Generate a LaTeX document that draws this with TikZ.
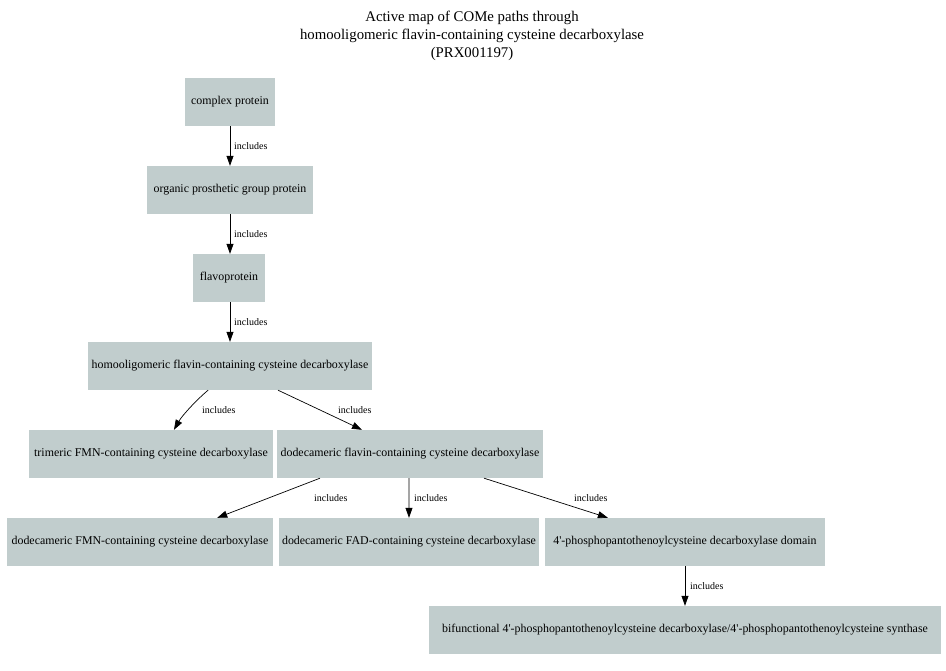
\documentclass[tikz,border=0pt]{standalone}
\usepackage{fontspec}
\setmainfont{Liberation Serif}
\usetikzlibrary{arrows.meta,calc}
\definecolor{boxfill}{HTML}{C1CDCD}
\newcommand{\apos}{\textquotesingle}
\begin{document}
\begin{tikzpicture}[x=1pt,y=-1pt,
  term/.style={fill=boxfill,draw=none,inner sep=0pt,minimum height=48pt,
    font=\fontsize{11.9}{14}\selectfont,anchor=center},
  rel/.style={draw=black,line width=0.7pt,-{Triangle[length=10pt,width=7pt]}},
  rellabel/.style={font=\fontsize{10}{12}\selectfont,inner sep=0pt}]
\useasboundingbox[fill=white] (0,0) rectangle (946,670);

% heading
\node[align=center,font=\fontsize{14.8}{18}\selectfont] (title) at (472,36)
  {Active map of COMe paths through\\homooligomeric flavin-containing cysteine decarboxylase\\(PRX001197)};

% terms
\node[term,minimum width=90pt]  (complex) at (230,102) {complex protein};
\node[term,minimum width=166pt] (organic) at (230,190) {organic prosthetic group protein};
\node[term,minimum width=72pt]  (flavo)   at (229,278) {flavoprotein};
\node[term,minimum width=284pt] (homo)    at (230,366) {homooligomeric flavin-containing cysteine decarboxylase};
\node[term,minimum width=244pt] (trimer)  at (151,454) {trimeric FMN-containing cysteine decarboxylase};
\node[term,minimum width=266pt] (dodeca)  at (410,454) {dodecameric flavin-containing cysteine decarboxylase};
\node[term,minimum width=266pt] (dfmn)    at (140,542) {dodecameric FMN-containing cysteine decarboxylase};
\node[term,minimum width=260pt] (dfad)    at (409,542) {dodecameric FAD-containing cysteine decarboxylase};
\node[term,minimum width=280pt] (domain)  at (685,542) {4\apos-phosphopantothenoylcysteine decarboxylase domain};
\node[term,minimum width=512pt] (bifunc)  at (685,630) {bifunctional 4\apos-phosphopantothenoylcysteine decarboxylase/4\apos-phosphopantothenoylcysteine synthase};

% relations
\draw[rel] (complex.south) -- (organic.north);
\node[rellabel,anchor=west] (l1) at (234,146) {includes};
\draw[rel] (organic.south) -- (organic.south |- flavo.north);
\node[rellabel,anchor=west] (l2) at (234,234) {includes};
\draw[rel] (flavo.south -| homo.north) -- (homo.north);
\node[rellabel,anchor=west] (l3) at (234,322) {includes};

\draw[rel] ($(homo.south west)!0.423!(homo.south east)$)
  .. controls +(-12,10) and +(8,-14) .. ($(trimer.north west)!0.594!(trimer.north east)$);
\node[rellabel,anchor=west] (l4) at (202,410) {includes};
\draw[rel] ($(homo.south west)!0.669!(homo.south east)$) -- ($(dodeca.north west)!0.32!(dodeca.north east)$);
\node[rellabel,anchor=west] (l5) at (338,410) {includes};

\draw[rel] ($(dodeca.south west)!0.162!(dodeca.south east)$) -- ($(dfmn.north west)!0.79!(dfmn.north east)$);
\node[rellabel,anchor=west] (l6) at (314,498) {includes};
\draw[rel] ($(dodeca.south west)!0.496!(dodeca.south east)$) -- ($(dfad.north west)!0.5!(dfad.north east)$);
\node[rellabel,anchor=west] (l7) at (414,498) {includes};
\draw[rel] ($(dodeca.south west)!0.778!(dodeca.south east)$) -- ($(domain.north west)!0.225!(domain.north east)$);
\node[rellabel,anchor=west] (l8) at (574,498) {includes};

\draw[rel] (domain.south) -- (bifunc.north);
\node[rellabel,anchor=west] (l9) at (690,586) {includes};
\end{tikzpicture}
\end{document}
